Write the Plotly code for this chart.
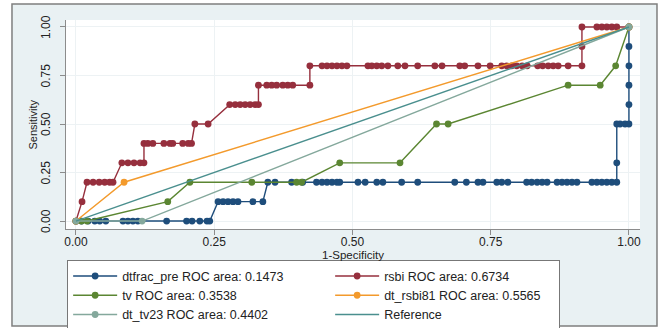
import plotly.graph_objects as go

# ---------------- data ----------------
dtfrac_fpr = [0, 0.01, 0.022, 0.034, 0.043, 0.054, 0.085, 0.094, 0.103, 0.112, 0.164, 0.2, 0.21, 0.224, 0.237, 0.242,
              0.257, 0.266, 0.275, 0.284, 0.293, 0.320, 0.338,
              0.347, 0.36, 0.39, 0.41, 0.435, 0.445, 0.454, 0.463, 0.472, 0.477, 0.51, 0.523, 0.544, 0.555, 0.589, 0.618,
              0.685, 0.706, 0.727, 0.736, 0.761, 0.770, 0.781, 0.815, 0.824, 0.834, 0.843, 0.852, 0.870, 0.879, 0.888,
              0.897, 0.906, 0.933, 0.942, 0.951, 0.960, 0.969, 0.978, 0.978, 0.978, 0.984, 0.993, 1.0, 1.0, 1.0, 1.0, 1.0, 1.0]
dtfrac_tpr = [0] * 16 + [0.1] * 7 + [0.2] * 39 + [0.3, 0.5, 0.5, 0.5, 0.5, 0.6, 0.7, 0.8, 0.9, 1.0]

rsbi_fpr = [0, 0.011, 0.02, 0.031, 0.042, 0.052, 0.061, 0.067,
            0.083, 0.094, 0.105, 0.116, 0.123,
            0.123, 0.13, 0.139, 0.159, 0.170, 0.175, 0.193, 0.203, 0.209,
            0.215, 0.239,
            0.278, 0.288, 0.297, 0.306, 0.315, 0.324, 0.33,
            0.33, 0.345, 0.354, 0.363, 0.374, 0.383, 0.392, 0.423,
            0.423, 0.445, 0.454, 0.463, 0.472, 0.481, 0.49, 0.528, 0.535, 0.544, 0.553, 0.564, 0.582, 0.595, 0.618,
            0.649, 0.662, 0.694, 0.703, 0.727, 0.749, 0.770, 0.779, 0.788, 0.797, 0.807, 0.816, 0.835, 0.844, 0.854,
            0.863, 0.872, 0.890, 0.915,
            0.915, 0.915, 0.942, 0.951, 0.960, 0.969, 0.978, 1.0]
rsbi_tpr = [0, 0.1] + [0.2] * 6 + [0.3] * 5 + [0.4] * 9 + [0.5] * 2 + [0.6] * 7 + [0.7] * 8 + [0.8] * 34 + \
           [0.9] + [1.0] * 7

tv_fpr = [0, 0.01, 0.02, 0.166, 0.206, 0.318, 0.399, 0.408, 0.477, 0.586, 0.652, 0.673, 0.890, 0.948, 0.976, 1.0]
tv_tpr = [0, 0, 0, 0.1, 0.2, 0.2, 0.2, 0.2, 0.3, 0.3, 0.5, 0.5, 0.7, 0.7, 0.8, 1.0]

dt_rsbi81_fpr = [0, 0.087, 1.0]
dt_rsbi81_tpr = [0, 0.2, 1.0]

dt_tv23_fpr = [0, 0.1196, 1.0]
dt_tv23_tpr = [0, 0, 1.0]

ref_x = [0, 1]
ref_y = [0, 1]

names = ["dtfrac_pre ROC area: 0.1473", "rsbi ROC area: 0.6734", "tv ROC area: 0.3538",
         "dt_rsbi81 ROC area: 0.5565", "dt_tv23 ROC area: 0.4402", "Reference"]
tick_vals = [0, 0.25, 0.5, 0.75, 1.0]
tick_text = ["0.00", "0.25", "0.50", "0.75", "1.00"]
x_title = "1-Specificity"
y_title = "Sensitivity"

# ---------------- styles ----------------
C_NAVY = "#1e4d7b"
C_MAROON = "#962f3d"
C_GREEN = "#5b8632"
C_ORANGE = "#f39a2c"
C_TEAL = "#84a89c"
C_REF = "#4a8f8e"
FONT = "Liberation Sans, Arial, sans-serif"

fig = go.Figure()

def roc(x, y, name, color, mode="lines+markers", lw=None):
    fig.add_trace(go.Scatter(
        x=x, y=y, name=name, mode=mode,
        line=dict(color=color, width=1.4),
        marker=dict(color=color, size=6.8, symbol="circle"),
        legendwidth=lw,
    ))

roc(dtfrac_fpr, dtfrac_tpr, names[0], C_NAVY)
roc(rsbi_fpr, rsbi_tpr, names[1], C_MAROON, lw=170)
roc(tv_fpr, tv_tpr, names[2], C_GREEN)
roc(dt_rsbi81_fpr, dt_rsbi81_tpr, names[3], C_ORANGE, lw=170)
roc(dt_tv23_fpr, dt_tv23_tpr, names[4], C_TEAL)
roc(ref_x, ref_y, names[5], C_REF, mode="lines", lw=170)

axis_common = dict(
    tickvals=tick_vals, ticktext=tick_text,
    showgrid=True, gridcolor="#edf2f4", gridwidth=1,
    zeroline=False,
    showline=True, linecolor="#8c8c8c", linewidth=1,
    ticks="outside", ticklen=5, tickcolor="#8c8c8c",
    tickfont=dict(family=FONT, size=12, color="#222222"),
    fixedrange=True,
    automargin=False,
)

# y tick labels as vertical text placed through the y axis scale
ytick_annots = [
    dict(text=t, xref="paper", yref="y", x=-0.035, y=v,
         xanchor="center", yanchor="middle", textangle=-90, showarrow=False,
         font=dict(family=FONT, size=12, color="#222222"))
    for v, t in zip(tick_vals, tick_text)
]

fig.update_layout(
    width=659, height=328,
    margin=dict(l=66, r=19, t=20, b=99, autoexpand=False),
    paper_bgcolor="white",
    plot_bgcolor="white",
    font=dict(family=FONT, color="#222222"),
    xaxis=dict(axis_common, range=[-0.018, 1.02], ticklabelstandoff=-3),
    yaxis=dict(axis_common, range=[-0.041, 1.036], showticklabels=False),
    showlegend=True,
    legend=dict(
        orientation="h",
        x=0.002, xanchor="left",
        y=-0.15, yanchor="top",
        bgcolor="white", bordercolor="#777777", borderwidth=1,
        font=dict(family=FONT, size=12.5, color="#222222"),
        itemwidth=44,
        entrywidth=203, entrywidthmode="pixels",
        tracegroupgap=0,
    ),
    annotations=[
        dict(text=x_title, xref="paper", yref="paper", x=0.5, y=-0.124,
             xanchor="center", yanchor="middle", showarrow=False,
             font=dict(family=FONT, size=11.5, color="#222222")),
        dict(text=y_title, xref="paper", yref="paper", x=-0.0575, y=0.5,
             xanchor="center", yanchor="middle", textangle=-90, showarrow=False,
             font=dict(family=FONT, size=11, color="#222222")),
    ] + ytick_annots,
    shapes=[
        dict(type="rect", xref="paper", yref="paper", layer="below",
             x0=-0.0941, x1=1.0296, y0=-0.4641, y1=1.0766,
             fillcolor="#e9f1f3", line=dict(color="#7f7f7f", width=1.5)),
        dict(type="rect", xref="paper", yref="paper", layer="below",
             x0=0, x1=1, y0=0, y1=1,
             fillcolor="white", line=dict(width=0)),
    ],
)

fig.write_html("out.html", config={"displayModeBar": False},
               post_script="document.body.style.margin='0';")
